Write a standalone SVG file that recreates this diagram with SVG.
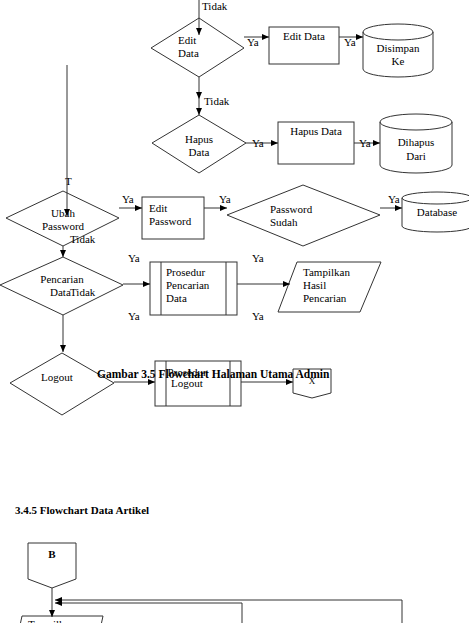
<svg xmlns="http://www.w3.org/2000/svg" width="469" height="623" viewBox="0 0 469 623">
<style>
.s{fill:#fff;stroke:#333;stroke-width:1}
.c{fill:none;stroke:#333;stroke-width:1}
text{font-family:"Liberation Serif","Times New Roman",serif;font-size:11px;fill:#000}
.m{text-anchor:middle}
.b{font-weight:bold;font-size:11.5px}
</style>
<defs>
<marker id="ah" markerWidth="8" markerHeight="6" refX="7" refY="3" orient="auto" markerUnits="userSpaceOnUse">
<path d="M0,0 L7,3 L0,6 z" fill="#000"/>
</marker>
</defs>
<rect width="469" height="623" fill="#fff"/>

<g id="n-editdata-dec">
<polygon class="s" points="199,18 244,48 199,77 151,48"/>
<text x="178" y="44">Edit</text><text x="178" y="57">Data</text>
</g>
<g id="n-editdata">
<rect class="s" x="269" y="27" width="70" height="37"/>
<text x="283" y="40">Edit Data</text>
</g>
<g id="n-disimpan">
<path class="s" d="M363,32 A35,8 0 0 1 433,32 L433,69 A35,8 0 0 1 363,69 Z"/>
<path class="c" d="M363,32 A35,8 0 0 0 433,32"/>
<text class="m" x="398" y="52">Disimpan</text><text class="m" x="398" y="65">Ke</text>
</g>
<g id="n-hapus-dec">
<polygon class="s" points="199,115 246,143 199,173 152,143"/>
<text class="m" x="199" y="143">Hapus</text><text class="m" x="199" y="156">Data</text>
</g>
<g id="n-hapusdata">
<rect class="s" x="278" y="122" width="76" height="42"/>
<text class="m" x="316" y="135">Hapus Data</text>
</g>
<g id="n-dihapus">
<path class="s" d="M380,122 A36,8 0 0 1 452,122 L452,165 A36,8 0 0 1 380,165 Z"/>
<path class="c" d="M380,122 A36,8 0 0 0 452,122"/>
<text class="m" x="416" y="146">Dihapus</text><text class="m" x="416" y="160">Dari</text>
</g>
<g id="n-ubah">
<polygon class="s" points="63,191 119,218 63,246 6,218"/>
<text class="m" x="63" y="217">Ubah</text><text class="m" x="63" y="230">Password</text>
</g>
<g id="n-editpass">
<rect class="s" x="142" y="197" width="62" height="42"/>
<text x="149" y="212">Edit</text><text x="149" y="225">Password</text>
</g>
<g id="n-sudah">
<polygon class="s" points="303,185 380,215 303,246 227,215"/>
<text x="270" y="213">Password</text><text x="270" y="226">Sudah</text>
</g>
<g id="n-database">
<path class="s" d="M402,198 A35,6 0 0 1 472,198 L472,226 A35,6 0 0 1 402,226 Z"/>
<path class="c" d="M402,198 A35,6 0 0 0 472,198"/>
<text class="m" x="437" y="216">Database</text>
</g>
<g id="n-pencarian">
<polygon class="s" points="63,257 123,285 63,315 0,285"/>
<text class="m" x="62" y="283">Pencarian</text><text x="50" y="296">Data</text>
</g>
<g id="n-prosedur-pencarian">
<rect class="s" x="150" y="262" width="87" height="53"/>
<line class="c" x1="161" y1="262" x2="161" y2="315"/><line class="c" x1="226" y1="262" x2="226" y2="315"/>
<text x="166" y="276">Prosedur</text><text x="166" y="289">Pencarian</text><text x="166" y="302">Data</text>
</g>
<g id="n-tampilkan">
<polygon class="s" points="297,262 381,262 360,312 278,312"/>
<text x="303" y="276">Tampilkan</text><text x="303" y="289">Hasil</text><text x="303" y="302">Pencarian</text>
</g>
<g id="n-logout">
<polygon class="s" points="62,353 114,383 62,415 10,383"/>
<text class="m" x="57" y="381">Logout</text>
</g>
<g id="n-prosedur-logout">
<rect class="s" x="155" y="361" width="86" height="45"/>
<line class="c" x1="166" y1="361" x2="166" y2="406"/><line class="c" x1="230" y1="361" x2="230" y2="406"/>
<text class="m" x="187" y="376">Prosedur</text><text class="m" x="187" y="387">Logout</text>
</g>
<g id="n-x">
<polygon class="s" points="293,369 331,369 331,393 312,398 293,393"/>
<text class="m" x="312" y="384" style="font-size:9px">X</text>
</g>
<g id="n-b">
<polygon class="s" points="28,543 76,543 76,579 52,588 28,579"/>
<text class="m" x="52" y="558" font-weight="bold">B</text>
</g>
<g id="n-tampil2">
<polygon class="s" points="22,616 103,616 100,630 19,630"/>
<text x="28" y="628">Tampilkan</text>
</g>

<g id="connectors">
<line class="c" x1="199" y1="0" x2="199" y2="35" marker-end="url(#ah)"/>
<line class="c" x1="244" y1="37" x2="269" y2="37" marker-end="url(#ah)"/>
<line class="c" x1="339" y1="37" x2="363" y2="37" marker-end="url(#ah)"/>
<line class="c" x1="199" y1="77" x2="199" y2="99" marker-end="url(#ah)"/>
<line class="c" x1="199" y1="99" x2="199" y2="115" marker-end="url(#ah)"/>
<line class="c" x1="246" y1="143" x2="278" y2="143" marker-end="url(#ah)"/>
<line class="c" x1="354" y1="143" x2="380" y2="143" marker-end="url(#ah)"/>
<line class="c" x1="67" y1="65" x2="67" y2="216" marker-end="url(#ah)"/>
<line class="c" x1="63" y1="246" x2="63" y2="257" marker-end="url(#ah)"/>
<line class="c" x1="119" y1="208" x2="142" y2="208" marker-end="url(#ah)"/>
<line class="c" x1="204" y1="208" x2="227" y2="208" marker-end="url(#ah)"/>
<line class="c" x1="380" y1="208" x2="402" y2="208" marker-end="url(#ah)"/>
<line class="c" x1="123" y1="284" x2="150" y2="284" marker-end="url(#ah)"/>
<line class="c" x1="237" y1="284" x2="290" y2="284" marker-end="url(#ah)"/>
<line class="c" x1="63" y1="315" x2="63" y2="352" marker-end="url(#ah)"/>
<line class="c" x1="114" y1="382" x2="155" y2="382" marker-end="url(#ah)"/>
<line class="c" x1="241" y1="382" x2="293" y2="382" marker-end="url(#ah)"/>
<line class="c" x1="52" y1="588" x2="52" y2="617" marker-end="url(#ah)"/>
<polyline class="c" points="402,623 402,600 55,600" marker-end="url(#ah)"/>
<polyline class="c" points="242,623 242,603 55,603" marker-end="url(#ah)"/>

<text x="202" y="10">Tidak</text>
<text x="247" y="46">Ya</text>
<text x="344" y="46">Ya</text>
<text x="204" y="105">Tidak</text>
<text x="252" y="147">Ya</text>
<text x="359" y="147">Ya</text>
<text x="65" y="185">T</text>
<text x="70" y="243">Tidak</text>
<text x="122" y="203">Ya</text>
<text x="219" y="203">Ya</text>
<text x="388" y="203">Ya</text>
<text x="70" y="296">Tidak</text>
<text x="128" y="262">Ya</text>
<text x="128" y="320">Ya</text>
<text x="252" y="262">Ya</text>
<text x="252" y="320">Ya</text>
</g>

<text class="b" x="97" y="378">Gambar 3.5 Flowchart Halaman Utama Admin</text>
<text class="b" x="15" y="514" style="font-size:11px">3.4.5 Flowchart Data Artikel</text>
</svg>
